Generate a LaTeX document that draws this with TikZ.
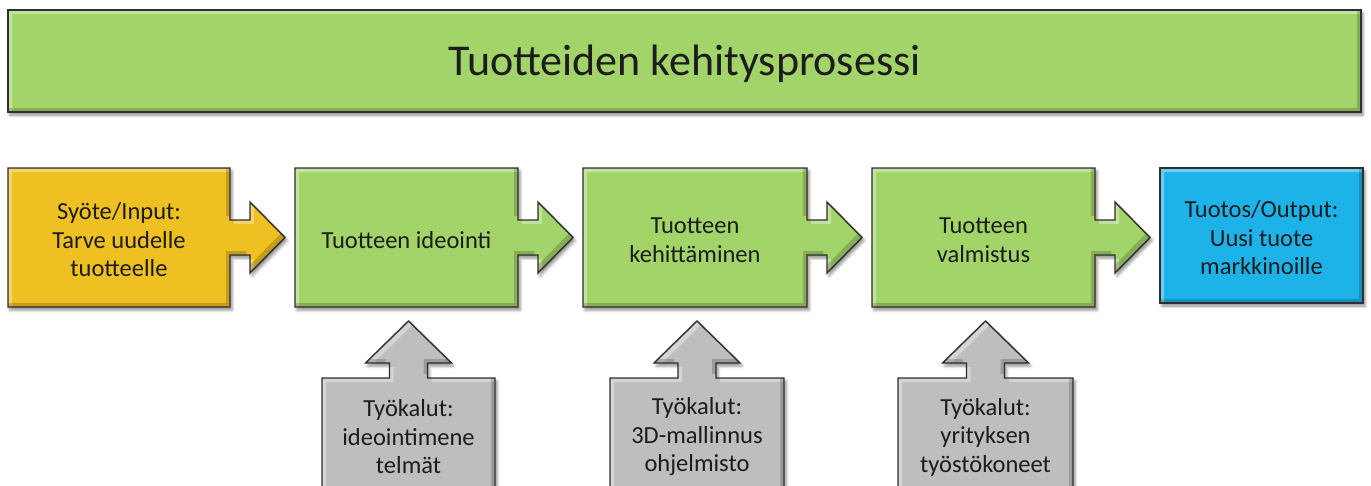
\documentclass[tikz,border=0pt]{standalone}
\usepackage{fontspec}
\setmainfont{Carlito}
\usetikzlibrary{shadows.blur}

\definecolor{procgreen}{HTML}{A2D46A}
\definecolor{inyellow}{HTML}{EEC021}
\definecolor{outblue}{HTML}{1DB3E8}
\definecolor{toolgray}{HTML}{BEBEBE}
\definecolor{edgedark}{HTML}{2E2E2E}
\definecolor{txt}{HTML}{1C1C1C}

\tikzset{
  shapefill/.style={fill=#1, blur shadow={shadow xshift=2pt, shadow yshift=-3pt,
      shadow blur radius=3pt, shadow opacity=45}},
  shapeedge/.style={draw=edgedark, line width=1.4pt, line join=miter},
  boxtext/.style={font=\fontsize{24.5}{28.5}\selectfont, text=txt, align=center},
  titletext/.style={font=\fontsize{44}{50}\selectfont, text=txt},
}

% bevelled shape: base fill with shadow, light top/left rim, dark bottom/right rim, outline
\newcommand\bevelshape[2]{%
  \fill[shapefill=#2] #1;
  \begin{scope}
    \clip #1;
    \fill[white, opacity=0.35, even odd rule] #1 [shift={(4,4)}] #1;
    \fill[black, opacity=0.18, even odd rule] #1 [shift={(-4,-4)}] #1;
  \end{scope}
  \draw[shapeedge] #1;
}

\begin{document}
\begin{tikzpicture}[x=1pt, y=-1pt]
  \useasboundingbox (0,0) rectangle (1371,485);
  \clip (0,0) rectangle (1371,485);

  % title bar
  \bevelshape{(8,10) rectangle (1361,112)}{procgreen}
  \node[titletext, anchor=base] (title) at (684.5,75) {Tuotteiden kehitysprosessi};

  % input box with arrow
  \bevelshape{(8,168) -- (230,168) -- (230,220) -- (250,220) -- (250,202) -- (285,237.5)
     -- (250,273) -- (250,255) -- (230,255) -- (230,307) -- (8,307) -- cycle}{inyellow}
  \node[boxtext] (input) at (119,240) {Syöte/Input:\\Tarve uudelle\\tuotteelle};

  % process steps with arrows
  \bevelshape{(295,168) -- (518,168) -- (518,220) -- (538,220) -- (538,202) -- (573,237.5)
     -- (538,273) -- (538,255) -- (518,255) -- (518,307) -- (295,307) -- cycle}{procgreen}
  \node[boxtext] (idea) at (406.5,240) {Tuotteen ideointi};

  \bevelshape{(583,168) -- (807,168) -- (807,220) -- (827,220) -- (827,202) -- (862,237.5)
     -- (827,273) -- (827,255) -- (807,255) -- (807,307) -- (583,307) -- cycle}{procgreen}
  \node[boxtext] (dev) at (695,240) {Tuotteen\\kehittäminen};

  \bevelshape{(872,168) -- (1095,168) -- (1095,220) -- (1115,220) -- (1115,202) -- (1150,237.5)
     -- (1115,273) -- (1115,255) -- (1095,255) -- (1095,307) -- (872,307) -- cycle}{procgreen}
  \node[boxtext] (make) at (983.5,240) {Tuotteen\\valmistus};

  % output box
  \bevelshape{(1160,168) rectangle (1363,303)}{outblue}
  \node[boxtext] (output) at (1261.5,238) {Tuotos/Output:\\Uusi tuote\\markkinoille};

  % tool boxes with upward arrows
  \bevelshape{(322,500) -- (322,378) -- (389.5,378) -- (389.5,363) -- (365.5,363) -- (408.5,321)
     -- (451.5,363) -- (427.5,363) -- (427.5,378) -- (495,378) -- (495,500) -- cycle}{toolgray}
  \node[boxtext] (tool1) at (408.5,437) {Työkalut:\\ideointimene\\telmät};

  \bevelshape{(610,500) -- (610,378) -- (678,378) -- (678,363) -- (654,363) -- (697,321)
     -- (740,363) -- (716,363) -- (716,378) -- (784,378) -- (784,500) -- cycle}{toolgray}
  \node[boxtext] (tool2) at (697,437) {Työkalut:\\3D-mallinnus\\ohjelmisto};

  \bevelshape{(898,500) -- (898,378) -- (966.5,378) -- (966.5,363) -- (942.5,363) -- (985.5,321)
     -- (1028.5,363) -- (1004.5,363) -- (1004.5,378) -- (1073,378) -- (1073,500) -- cycle}{toolgray}
  \node[boxtext] (tool3) at (985.5,437) {Työkalut:\\yrityksen\\työstökoneet};
\end{tikzpicture}
\end{document}
